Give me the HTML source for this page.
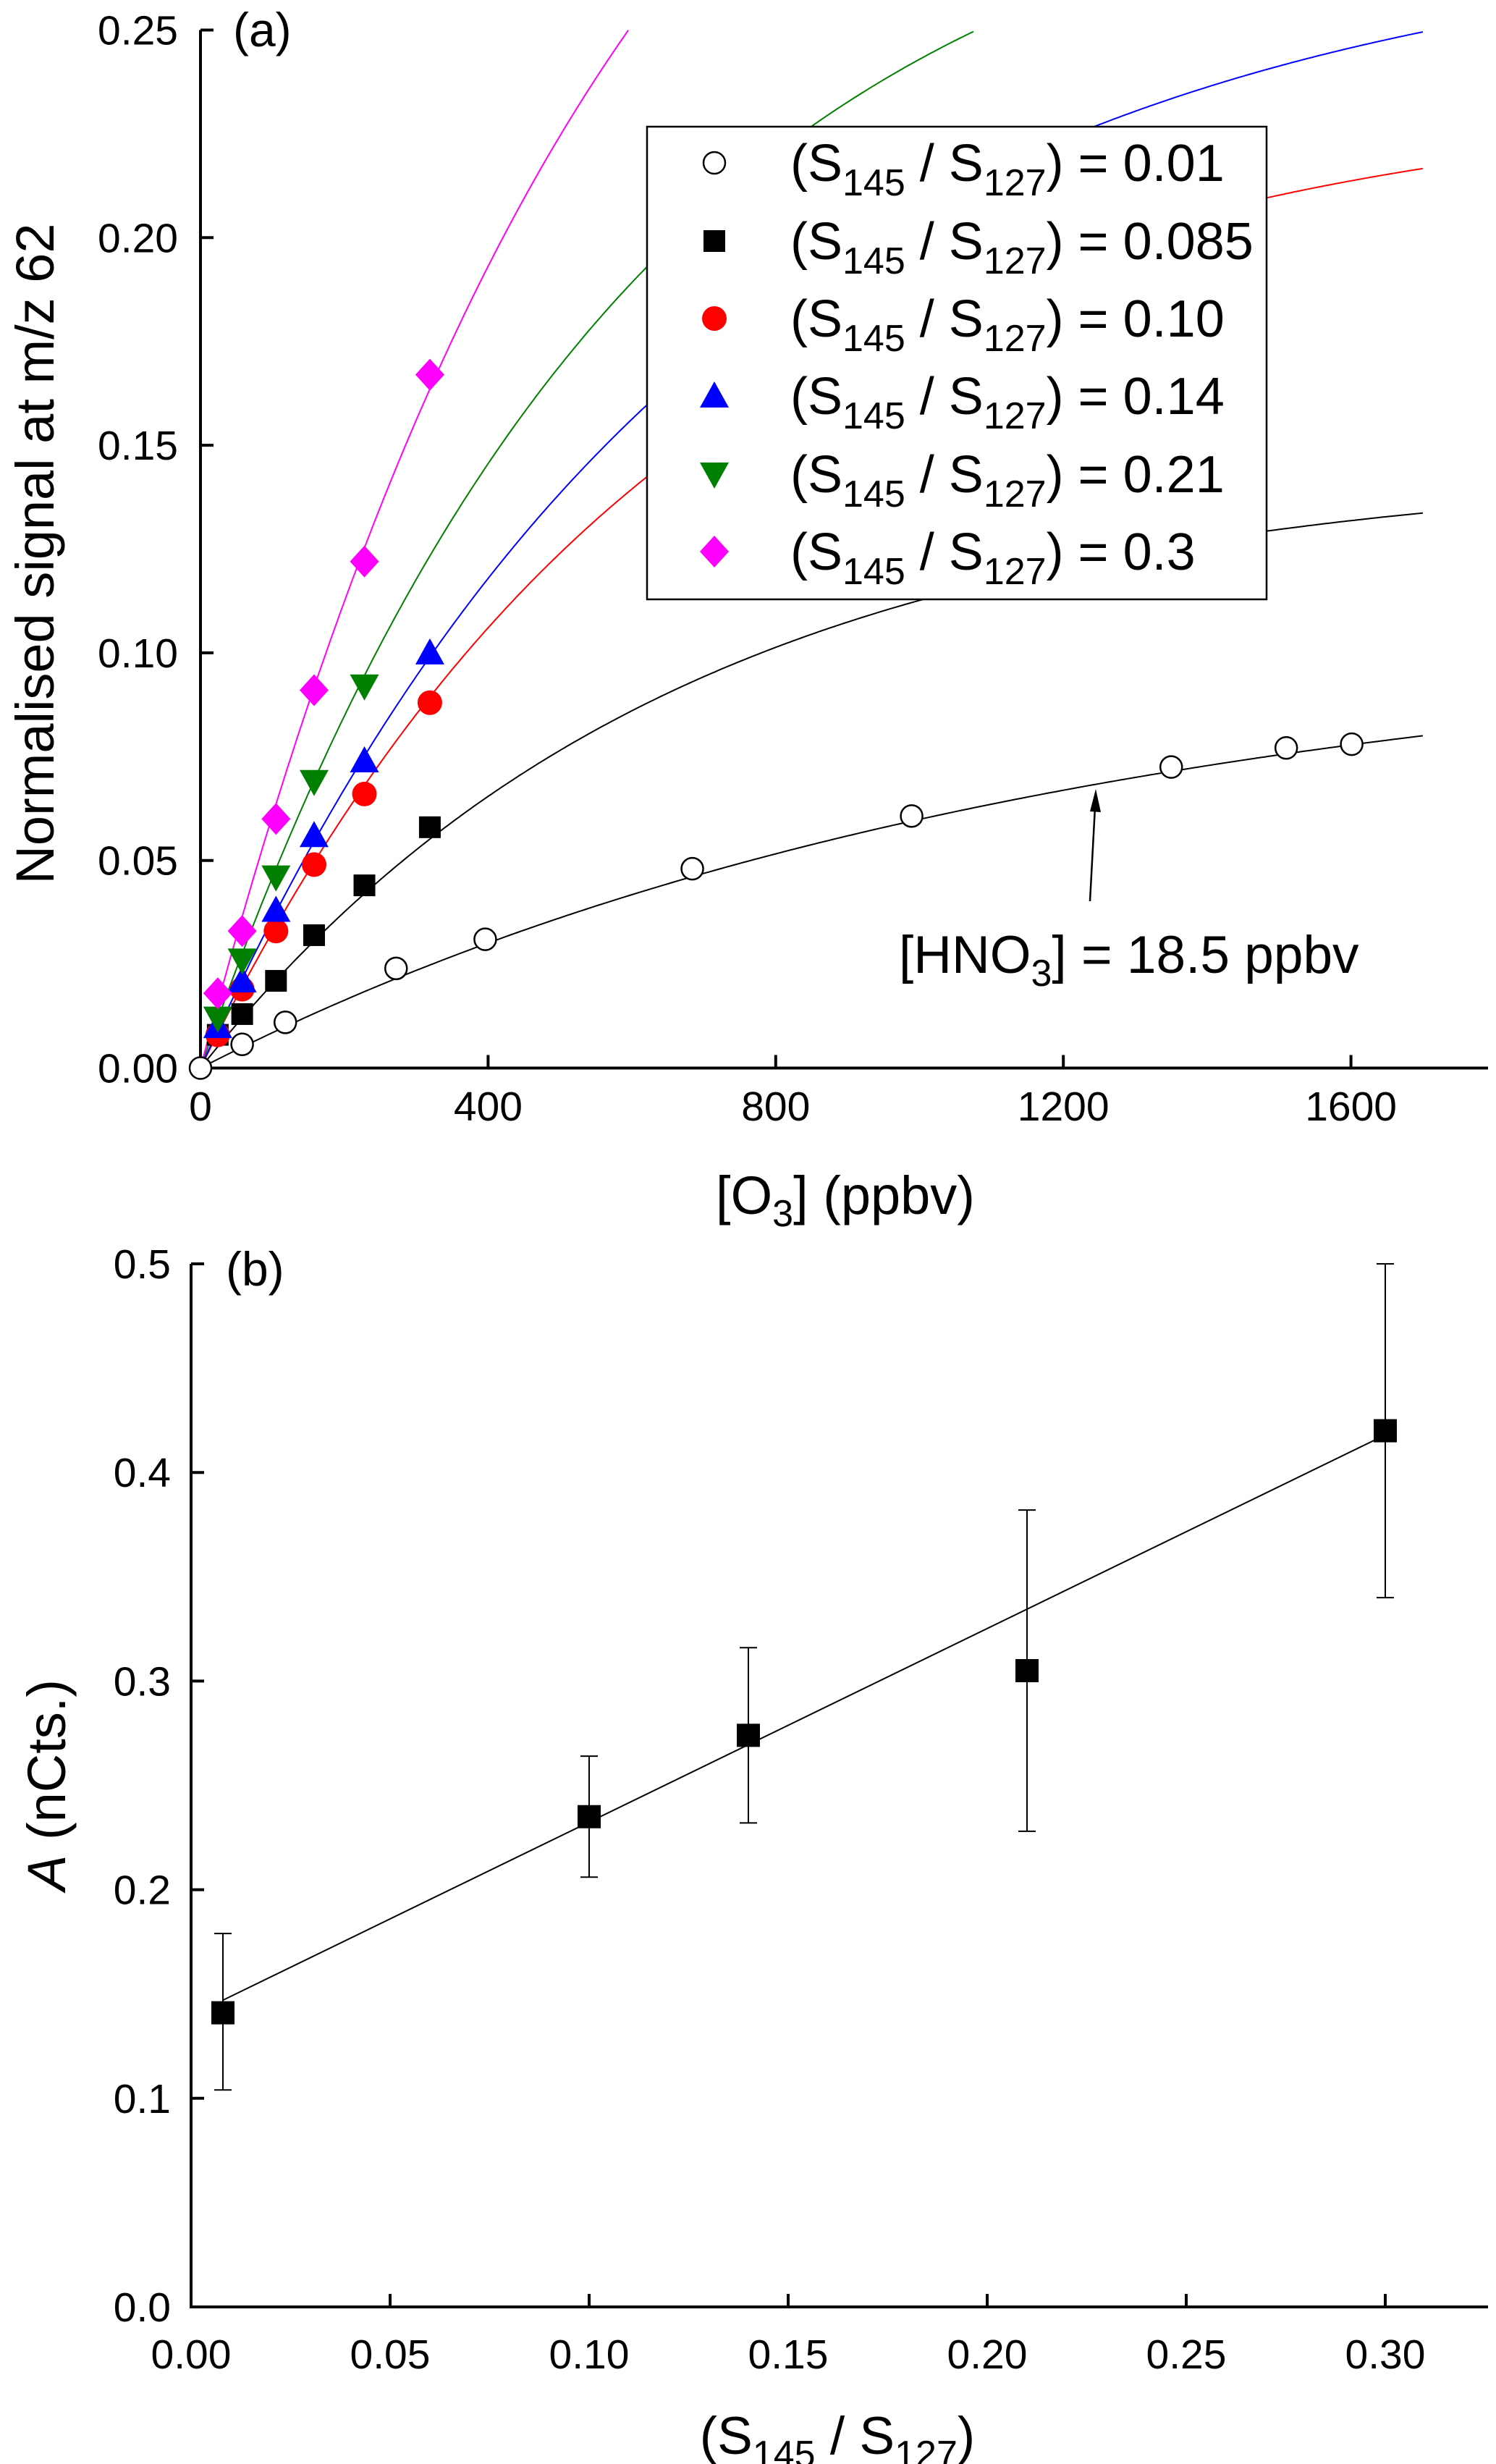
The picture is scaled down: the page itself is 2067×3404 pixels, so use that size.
<!DOCTYPE html>
<html><head><meta charset="utf-8"><style>
html,body{margin:0;padding:0;background:#fff}
svg{display:block;font-family:"Liberation Sans",Arial,sans-serif}
</style></head><body>
<svg id="fig" width="2067" height="3404" viewBox="0 0 2067 3404" xmlns="http://www.w3.org/2000/svg">
<rect width="2067" height="3404" fill="#fff"/>
<g id="pa"></g>
<g id="pb"></g>
</svg>
<script>
// ---- Panel (a) data ----
const aXTicks = [0, 400, 800, 1200, 1600];
const aYTicks = [0.00, 0.05, 0.10, 0.15, 0.20, 0.25];
const aYTickLabels = ["0.00", "0.05", "0.10", "0.15", "0.20", "0.25"];
const circX = [0, 58, 118, 272, 396, 684, 989, 1350, 1510, 1601];
const circY = [0, 0.0057, 0.011, 0.024, 0.031, 0.048, 0.0607, 0.0725, 0.0771, 0.078];
const o3X = [24, 58, 105, 158, 228, 319];
const sqY = [0.008, 0.013, 0.021, 0.032, 0.044, 0.058];
const redY = [0.008, 0.019, 0.033, 0.049, 0.066, 0.088];
const blueY = [0.010, 0.021, 0.038, 0.056, 0.074, 0.100];
const greenY = [0.012, 0.026, 0.046, 0.069, 0.092];
const magY = [0.018, 0.033, 0.060, 0.091, 0.122, 0.167];
// fit parameters y = amp*(1-exp(-rate*x))
const fitAmp = [0.105, 0.145, 0.235, 0.275, 0.30, 0.40];
const fitRate = [0.000845, 0.0015, 0.0015, 0.0014, 0.00166, 0.001648];
const fitColors = ["#000", "#000", "#f00", "#00f", "#008000", "#f0f"];
// ---- Panel (b) data ----
const bXTicks = [0, 0.05, 0.10, 0.15, 0.20, 0.25, 0.30];
const bXTickLabels = ["0.00", "0.05", "0.10", "0.15", "0.20", "0.25", "0.30"];
const bYTicks = [0, 0.1, 0.2, 0.3, 0.4, 0.5];
const bYTickLabels = ["0.0", "0.1", "0.2", "0.3", "0.4", "0.5"];
const bX = [0.008, 0.10, 0.14, 0.21, 0.30];
const bY = [0.141, 0.235, 0.274, 0.305, 0.420];
const bErrLo = [0.104, 0.206, 0.232, 0.228, 0.340];
const bErrHi = [0.179, 0.264, 0.316, 0.382, 0.500];
const bFitSlope = 0.928, bFitIntercept = 0.1396;

const NS = "http://www.w3.org/2000/svg";
function mk(parent, tag, attrs, text) {
  const e = document.createElementNS(NS, tag);
  for (const k in attrs) e.setAttribute(k, attrs[k]);
  if (text !== undefined) e.textContent = text;
  parent.appendChild(e);
  return e;
}
const pa = document.getElementById('pa');
const pb = document.getElementById('pb');
const TF = 57;

// axes panel a
const ax0 = 277, axPer = 397.4 / 400, ay0 = 1475.5, ayPer = (1475.5 - 41.5) / 0.25, axEnd = 2056;
const xa = v => ax0 + v * axPer;
const ya = v => ay0 - v * ayPer;

let el;
el = mk(pa, 'line', {x1: ax0, y1: ay0, x2: axEnd, y2: ay0, stroke: '#000', 'stroke-width': 4});


el = mk(pa, 'line', {x1: ax0, y1: ay0 + 2, x2: ax0, y2: ya(0.25), stroke: '#000', 'stroke-width': 4});


aXTicks.forEach(t => {
  mk(pa, 'line', {x1: xa(t), y1: ay0, x2: xa(t), y2: ay0 - 18, stroke: '#000', 'stroke-width': 4});
  el = mk(pa, 'text', {x: xa(t), y: 1548, 'font-size': TF, 'text-anchor': 'middle'}, String(t));
  
  
});
aYTicks.forEach((t, i) => {
  mk(pa, 'line', {x1: ax0, y1: ya(t), x2: ax0 + 18, y2: ya(t), stroke: '#000', 'stroke-width': 4});
  el = mk(pa, 'text', {x: 246, y: ya(t) + 20, 'font-size': TF, 'text-anchor': 'end'}, aYTickLabels[i]);
  
  
});
el = mk(pa, 'text', {x: 0, y: 0, 'font-size': 74, 'text-anchor': 'middle', transform: 'translate(74,765) rotate(-90)'}, 'Normalised signal at m/z 62');


el = mk(pa, 'text', {x: 1168, y: 1677, 'font-size': 74, 'text-anchor': 'middle'});


el.innerHTML = '[O<tspan font-size="52" dy="17">3</tspan><tspan dy="-17">] (ppbv)</tspan>';
el = mk(pa, 'text', {x: 322, y: 64, 'font-size': 66}, '(a)');



// fit curves
fitAmp.forEach((A, i) => {
  const k = fitRate[i];
  let pts = [];
  for (let x = 0; x <= 1700; x += 5) {
    const y = A * (1 - Math.exp(-k * x));
    if (y > 0.25) break;
    pts.push(xa(x).toFixed(1) + ',' + ya(y).toFixed(1));
  }
  el = mk(pa, 'polyline', {points: pts.join(' '), fill: 'none', stroke: fitColors[i], 'stroke-width': 2});
  
  
});

function marker(parent, type, cx, cy) {
  let e;
  if (type === 'circle') e = mk(parent, 'ellipse', {cx, cy, rx: 15, ry: 15, fill: '#fff', stroke: '#000', 'stroke-width': 2.5});
  else if (type === 'square') e = mk(parent, 'rect', {x: cx - 15, y: cy - 15, width: 30, height: 30, fill: '#000'});
  else if (type === 'dot') e = mk(parent, 'ellipse', {cx, cy, rx: 17, ry: 17, fill: '#f00'});
  else if (type === 'up') e = mk(parent, 'polygon', {points: `${cx},${cy - 20} ${cx + 20},${cy + 16} ${cx - 20},${cy + 16}`, fill: '#00f'});
  else if (type === 'down') e = mk(parent, 'polygon', {points: `${cx - 20},${cy - 16} ${cx + 20},${cy - 16} ${cx},${cy + 20}`, fill: '#008000'});
  else if (type === 'diamond') e = mk(parent, 'polygon', {points: `${cx},${cy - 22} ${cx + 20},${cy} ${cx},${cy + 22} ${cx - 20},${cy}`, fill: '#f0f'});
  return e;
}
function series(xs, ys, type, nm) {
  ys.forEach((v, i) => {
    const m = marker(pa, type, xa(xs[i]), ya(v));
    
    
  });
}
series(circX, circY, 'circle', 'point-ratio-0-01');
series(o3X, sqY, 'square', 'point-ratio-0-085');
series(o3X, redY, 'dot', 'point-ratio-0-10');
series(o3X, blueY, 'up', 'point-ratio-0-14');
series(o3X, greenY, 'down', 'point-ratio-0-21');
series(o3X, magY, 'diamond', 'point-ratio-0-3');

// legend
const lg = mk(pa, 'g', {});


mk(lg, 'rect', {x: 894, y: 175, width: 856, height: 653, fill: '#fff', stroke: '#000', 'stroke-width': 2.5});
const legVals = ["0.01", "0.085", "0.10", "0.14", "0.21", "0.3"];
const legTypes = ['circle', 'square', 'dot', 'up', 'down', 'diamond'];
const legY = [225, 333, 440, 547, 655, 762];
legVals.forEach((v, i) => {
  const m = marker(lg, legTypes[i], 987, legY[i]);
  
  
  const t = mk(lg, 'text', {x: 1092, y: legY[i] + 25, 'font-size': 72});
  
  
  t.innerHTML = '(S<tspan font-size="52" dy="20">145</tspan><tspan dy="-20"> / S</tspan><tspan font-size="52" dy="20">127</tspan><tspan dy="-20">) = ' + v + '</tspan>';
});

// annotation
el = mk(pa, 'line', {x1: 1506, y1: 1245, x2: 1513, y2: 1115, stroke: '#000', 'stroke-width': 2.5});


mk(pa, 'polygon', {points: '1514,1090 1521,1122 1506,1121', fill: '#000'});
el = mk(pa, 'text', {x: 1242, y: 1344, 'font-size': 73});


el.innerHTML = '[HNO<tspan font-size="52" dy="18">3</tspan><tspan dy="-18">] = 18.5 ppbv</tspan>';

// ---- panel b ----
const bx0 = 264, bxPer = 275 / 0.05, by0 = 3187, byPer = (3187 - 1746) / 0.5, bxEnd = 2056;
const xb = v => bx0 + v * bxPer;
const yb = v => by0 - v * byPer;
el = mk(pb, 'line', {x1: bx0, y1: by0, x2: bxEnd, y2: by0, stroke: '#000', 'stroke-width': 4});


el = mk(pb, 'line', {x1: bx0, y1: by0 + 2, x2: bx0, y2: yb(0.5), stroke: '#000', 'stroke-width': 4});


bXTicks.forEach((t, i) => {
  mk(pb, 'line', {x1: xb(t), y1: by0, x2: xb(t), y2: by0 - 18, stroke: '#000', 'stroke-width': 4});
  el = mk(pb, 'text', {x: xb(t), y: 3272, 'font-size': TF, 'text-anchor': 'middle'}, bXTickLabels[i]);
  
  
});
bYTicks.forEach((t, i) => {
  mk(pb, 'line', {x1: bx0, y1: yb(t), x2: bx0 + 18, y2: yb(t), stroke: '#000', 'stroke-width': 4});
  el = mk(pb, 'text', {x: 236, y: yb(t) + 20, 'font-size': TF, 'text-anchor': 'end'}, bYTickLabels[i]);
  
  
});
el = mk(pb, 'text', {x: 0, y: 0, 'font-size': 74, 'text-anchor': 'middle', transform: 'translate(90,2466) rotate(-90)'});


el.innerHTML = '<tspan font-style="italic">A</tspan> (nCts.)';
el = mk(pb, 'text', {x: 1157, y: 3390, 'font-size': 73, 'text-anchor': 'middle'});


el.innerHTML = '(S<tspan font-size="52" dy="18">145</tspan><tspan dy="-18"> / S</tspan><tspan font-size="52" dy="18">127</tspan><tspan dy="-18">)</tspan>';
el = mk(pb, 'text', {x: 312, y: 1776, 'font-size': 66}, '(b)');


// fit line
el = mk(pb, 'line', {x1: xb(bX[0]), y1: yb(bFitIntercept + bFitSlope * bX[0]), x2: xb(bX[bX.length - 1]), y2: yb(bFitIntercept + bFitSlope * bX[bX.length - 1]), stroke: '#000', 'stroke-width': 2});


bX.forEach((x, i) => {
  const cx = xb(x);
  const g = mk(pb, 'g', {});
  
  
  mk(g, 'line', {x1: cx, y1: yb(bErrLo[i]), x2: cx, y2: yb(bErrHi[i]), stroke: '#000', 'stroke-width': 2});
  mk(g, 'line', {x1: cx - 12, y1: yb(bErrLo[i]), x2: cx + 12, y2: yb(bErrLo[i]), stroke: '#000', 'stroke-width': 2});
  mk(g, 'line', {x1: cx - 12, y1: yb(bErrHi[i]), x2: cx + 12, y2: yb(bErrHi[i]), stroke: '#000', 'stroke-width': 2});
  const r = mk(pb, 'rect', {x: cx - 16, y: yb(bY[i]) - 16, width: 32, height: 32, fill: '#000'});
  
  
});
</script>
</body></html>
